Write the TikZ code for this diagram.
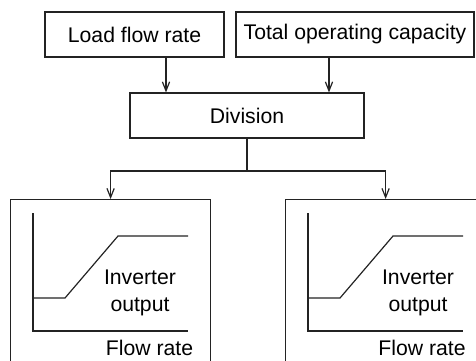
\documentclass[tikz,border=0pt]{standalone}
\usepackage{fontspec}
\setmainfont{Liberation Sans}
\usetikzlibrary{arrows.meta, positioning}
\definecolor{lineink}{RGB}{35,35,35}
\tikzset{
  >={Straight Barb[length=4.5pt,width=3.6pt]},
  % Blocchi di testo
  block/.style={draw=lineink,line width=0.6pt,minimum height=22.5pt,inner sep=0pt,
    font=\fontsize{10.6pt}{13.5pt}\selectfont},
  panel/.style={draw=lineink,line width=0.6pt,minimum width=100pt,minimum height=85pt,inner sep=0pt},
  label/.style={font=\fontsize{10.6pt}{13.5pt}\selectfont,align=center,inner sep=0pt},
  % Connessioni
  connect/.style={lineink,line width=0.6pt},
  curve/.style={lineink,line width=0.6pt}
}
\begin{document}
\begin{tikzpicture}[x=0.5pt,y=-0.5pt]
        \clip (0,0) rectangle (476,360);
        % Ingressi
        \node[block,minimum width=89.5pt] (load) at (134.5,34.5) {Load flow rate};
        \node[block,minimum width=119pt] (total) at (355,34.5) {Total operating capacity};
        \node[block,minimum width=117pt] (division) at (247,115.5) {Division};
        \draw[connect,->] (load.south -| 166,0) -- (division.north -| 166,0);
        \draw[connect,->] (total.south -| 329,0) -- (division.north -| 329,0);
        % Pannelli delle uscite
        \node[panel,anchor=north west] (leftpanel) at (10,199) {};
        \node[panel,anchor=north west] (rightpanel) at (285,199) {};
        \coordinate (split) at (247,171);
        \draw[connect] (division.south) -- (split);
        \draw[connect,->] (split) -| (leftpanel.north);
        \draw[connect,->] (split) -| (rightpanel.north);
        % Curva sinistra
        \draw[curve] (33,213) -- (33,331) -- (188,331);
        \draw[curve] (33,298) -- (65,298) -- (118,236) -- (188,236);
        \node[label] (leftout) at (140,293) {Inverter\\output};
        \node[label] (leftflow) at (149.5,348) {Flow rate};
        % Curva destra
        \draw[curve] (308,213) -- (308,331) -- (463,331);
        \draw[curve] (308,298) -- (340,298) -- (393,236) -- (463,236);
        \node[label] (rightout) at (418,293) {Inverter\\output};
        \node[label] (rightflow) at (422,348) {Flow rate};
      \end{tikzpicture}
\end{document}
